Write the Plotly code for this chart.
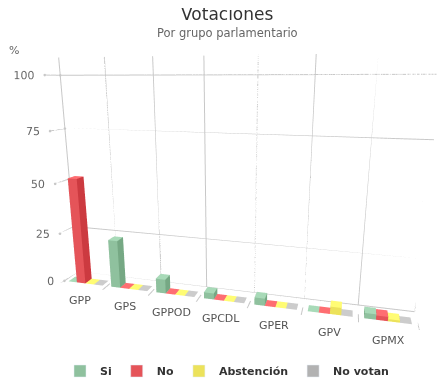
import numpy as np
import plotly.graph_objects as go

# ---------------- data ----------------
categories = ["GPP", "GPS", "GPPOD", "GPCDL", "GPER", "GPV", "GPMX"]
series_names = ["Si", "No", "Abstención", "No votan"]
si = [0, 24, 7, 3, 3.5, 0, 2.5]
no = [53, 0, 0, 0, 0, 0, 2]
abstencion = [0, 0, 0, 0, 0, 3.5, 1]
no_votan = [0, 0, 0, 0, 0, 0, 0]
y_ticks = [0, 25, 50, 75, 100]
y_axis_title = "%"

series_values = [si, no, abstencion, no_votan]
colors = ["#8fc19e", "#e55459", "#ece25b", "#b2b2b2"]

FONT = "DejaVu Sans"
GRID = "#c8c8c8"
W_PX, H_PX = 438, 381   # page body has an 8px margin


def shade(hex_color, amt):
    h = hex_color.lstrip("#")
    rgb = [int(h[i:i + 2], 16) for i in (0, 2, 4)]
    rgb = [max(0, min(255, int(round(c + amt * 255)))) for c in rgb]
    return "#%02x%02x%02x" % tuple(rgb)


n_series = len(series_values)
bar_w = 0.2
group_w = bar_w * n_series


def column_mesh(values, s, color):
    xs, ys, zs, I, J, K, fc = [], [], [], [], [], [], []
    top = shade(color, 0.1)
    side = shade(color, -0.1)
    for i, v in enumerate(values):
        x0 = i - group_w / 2 + s * bar_w
        x1 = x0 + bar_w
        y0, y1 = 0.0, 0.5
        z0, z1 = 0.0, float(v)
        b = len(xs)
        for (a, bb, c) in [(x0, y0, z0), (x1, y0, z0), (x1, y1, z0), (x0, y1, z0),
                           (x0, y0, z1), (x1, y0, z1), (x1, y1, z1), (x0, y1, z1)]:
            xs.append(a); ys.append(bb); zs.append(c)
        faces = [((0, 1, 2), top), ((0, 2, 3), top), ((4, 5, 6), top), ((4, 6, 7), top),
                 ((0, 1, 5), color), ((0, 5, 4), color), ((3, 2, 6), color), ((3, 6, 7), color),
                 ((0, 3, 7), side), ((0, 7, 4), side), ((1, 2, 6), side), ((1, 6, 5), side)]
        for (a, bb, c), col in faces:
            I.append(b + a); J.append(b + bb); K.append(b + c); fc.append(col)
    return go.Mesh3d(x=xs, y=ys, z=zs, i=I, j=J, k=K, facecolor=fc,
                     flatshading=True,
                     lighting=dict(ambient=1, diffuse=0, specular=0, roughness=1, fresnel=0),
                     hoverinfo="skip", showscale=False, showlegend=False, scene="scene")


fig = go.Figure()

# grid / frame lines
gx, gy, gz = [], [], []
xmin, xmax = -0.5, len(categories) - 0.5
for t in y_ticks:
    gx += [xmin, xmax, None]; gy += [1, 1, None]; gz += [t, t, None]      # back wall
    gx += [xmin, xmin, None]; gy += [0, 1, None]; gz += [t, t, None]      # side wall
for k in range(len(categories) + 1):
    bx = xmin + k
    gx += [bx, bx, None]; gy += [1, 1, None]; gz += [0, 108, None]         # category grid
    gx += [bx, bx, None]; gy += [-0.35, 0.25, None]; gz += [0, 0, None]   # ticks
fig.add_trace(go.Scatter3d(x=gx, y=gy, z=gz, mode="lines",
                           line=dict(color=GRID, width=2),
                           hoverinfo="skip", showlegend=False, scene="scene"))

for s, vals in enumerate(series_values):
    fig.add_trace(column_mesh(vals, s, colors[s]))

# end points of the side-wall grid lines
fig.add_trace(go.Scatter3d(x=[xmin] * len(y_ticks), y=[0] * len(y_ticks), z=y_ticks,
                           mode="markers", marker=dict(size=1.5, color=GRID),
                           hoverinfo="skip", showlegend=False, scene="scene"))
fig.add_trace(go.Scatter3d(x=[xmin] * len(y_ticks), y=[1] * len(y_ticks), z=y_ticks,
                           mode="markers", marker=dict(size=1.5, color=GRID),
                           hoverinfo="skip", showlegend=False, scene="scene"))

# y-axis tick labels at the front edge of the side wall
fig.add_trace(go.Scatter3d(x=[xmin] * len(y_ticks), y=[0] * len(y_ticks), z=y_ticks,
                           mode="text", text=[str(t) for t in y_ticks],
                           textposition="middle left",
                           textfont=dict(family=FONT, size=11, color="#666666"),
                           hoverinfo="skip", showlegend=False, scene="scene"))

# legend entries
for s, name in enumerate(series_names):
    fig.add_trace(go.Bar(x=[None], y=[None], name=name, marker=dict(color=colors[s]),
                         showlegend=True, hoverinfo="skip"))

scene_ann = []
for i, c in enumerate(categories):
    scene_ann.append(dict(x=i, y=-0.4, z=0, text=c, showarrow=False,
                          yanchor="top", yshift=-5,
                          font=dict(family=FONT, size=11, color="#555555")))

fig.update_layout(
    width=W_PX, height=H_PX,
    margin=dict(l=0, r=0, t=0, b=0),
    paper_bgcolor="white", plot_bgcolor="rgba(0,0,0,0)",
    font=dict(family=FONT, color="#333333"),
    xaxis=dict(visible=False), yaxis=dict(visible=False),
    scene=dict(
        domain=dict(x=[0, 1], y=[0, 1]),
        xaxis=dict(visible=False, range=[xmin, xmax]),
        yaxis=dict(visible=False, range=[-0.4, 1.0]),
        zaxis=dict(visible=False, range=[0, 110]),
        aspectmode="manual", aspectratio=dict(x=1, y=0.098, z=0.6614),
        camera=dict(eye=dict(x=0.3074, y=-1.1345, z=0.2588),
                    center=dict(x=0.0008, y=0.0100, z=-0.0477),
                    up=dict(x=0, y=0, z=1),
                    projection=dict(type="perspective")),
        bgcolor="white",
        annotations=scene_ann,
    ),
    legend=dict(orientation="h", x=0.5, xanchor="center", y=1 - 363 / H_PX, yanchor="middle",
                font=dict(family=FONT, size=11, color="#333333", weight="bold"),
                bgcolor="rgba(0,0,0,0)"),
    annotations=[
        dict(x=0.5, y=1 - 6 / H_PX, xref="paper", yref="paper", text="Votaciones",
             showarrow=False, xanchor="center", yanchor="middle",
             font=dict(family=FONT, size=17, color="#333333")),
        dict(x=0.5, y=1 - 25 / H_PX, xref="paper", yref="paper", text="Por grupo parlamentario",
             showarrow=False, xanchor="center", yanchor="middle",
             font=dict(family=FONT, size=11.5, color="#666666")),
        dict(x=6 / W_PX, y=1 - 42 / H_PX, xref="paper", yref="paper", text=y_axis_title,
             showarrow=False, xanchor="center", yanchor="middle",
             font=dict(family=FONT, size=11, color="#666666")),
    ],
)

fig.write_html("out.html")
